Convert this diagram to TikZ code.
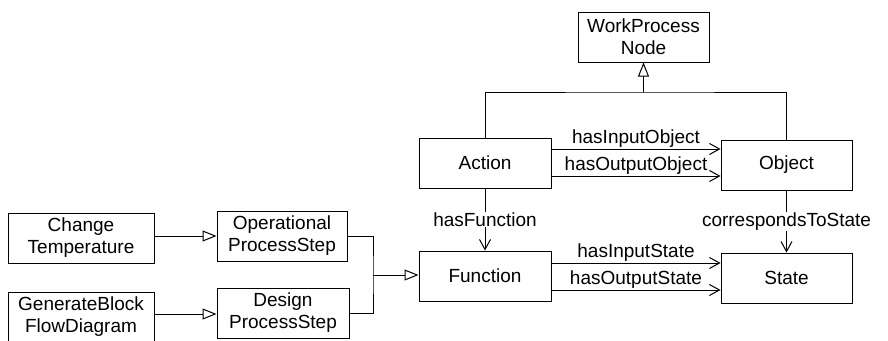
\documentclass[tikz,border=0pt]{standalone}
\usepackage{fontspec}
\setmainfont{Liberation Sans}
\usetikzlibrary{arrows.meta,calc}
\begin{document}
\begin{tikzpicture}[x=1pt,y=-1pt,
  every node/.style={font=\fontsize{19}{22}\selectfont},
  cls/.style={draw, line width=1pt, minimum width=131pt, minimum height=50pt,
              align=center, inner sep=0pt},
  link/.style={line width=1pt},
  gen/.style={link, -{Triangle[open, length=14pt, width=11pt]}},
  assoc/.style={link, -{Straight Barb[length=10pt, width=11pt]}},
  lbl/.style={inner sep=1pt},
  midlbl/.style={fill=white, inner sep=1pt}
]
\useasboundingbox (0,0) rectangle (888,340);
\clip (0,0) rectangle (888,340);

% classes
\node[cls] (wpn) at (643.5,37) {WorkProcess\\Node};
\node[cls, minimum width=132pt] (action) at (485,163) {Action};
\node[cls] (object) at (786.5,165) {Object};
\node[cls, minimum width=132pt] (function) at (485,276) {Function};
\node[cls] (state) at (786.5,278) {State};
\node[cls, minimum width=130pt] (ops) at (282,236) {Operational\\ProcessStep};
\node[cls, minimum width=132pt] (dps) at (283,313) {Design\\ProcessStep};
\node[cls, minimum width=146pt] (ct) at (81,238) {Change\\Temperature};
\node[cls, minimum width=146pt] (gbfd) at (81,317) {GenerateBlock\\FlowDiagram};

% generalisations
\coordinate (k) at (643.5,92);
\draw[link] (action.north) |- (k) -| (object.north);
\draw[gen] (k) -- (wpn.south);

\coordinate (j) at (373,275);
\draw[link] (ops.east) -| (j) |- (dps.east);
\draw[gen] (j) -- (j -| function.west);

\draw[gen] (ops.west -| ct.east) -- (ops.west);
\draw[gen] ([yshift=-1pt]dps.west -| gbfd.east) -- ([yshift=-1pt]dps.west);

% associations
\draw[assoc] ([yshift=14pt]action.east) -- ([yshift=14pt]action.east -| object.west)
  node[midway, above, lbl] {hasInputObject};
\draw[assoc] ([yshift=-13pt]action.east) -- ([yshift=-13pt]action.east -| object.west)
  node[midway, above, lbl] {hasOutputObject};

\draw[assoc] ([yshift=13pt]function.east) -- ([yshift=13pt]function.east -| state.west)
  node[midway, above, lbl] {hasInputState};
\draw[assoc] ([yshift=-14pt]function.east) -- ([yshift=-14pt]function.east -| state.west)
  node[midway, above, lbl] {hasOutputState};

\draw[assoc] (action.south) -- (function.north)
  node[midway, midlbl] {hasFunction};
\draw[assoc] (object.south) -- (state.north)
  node[midway, midlbl] {correspondsToState};
\end{tikzpicture}
\end{document}
